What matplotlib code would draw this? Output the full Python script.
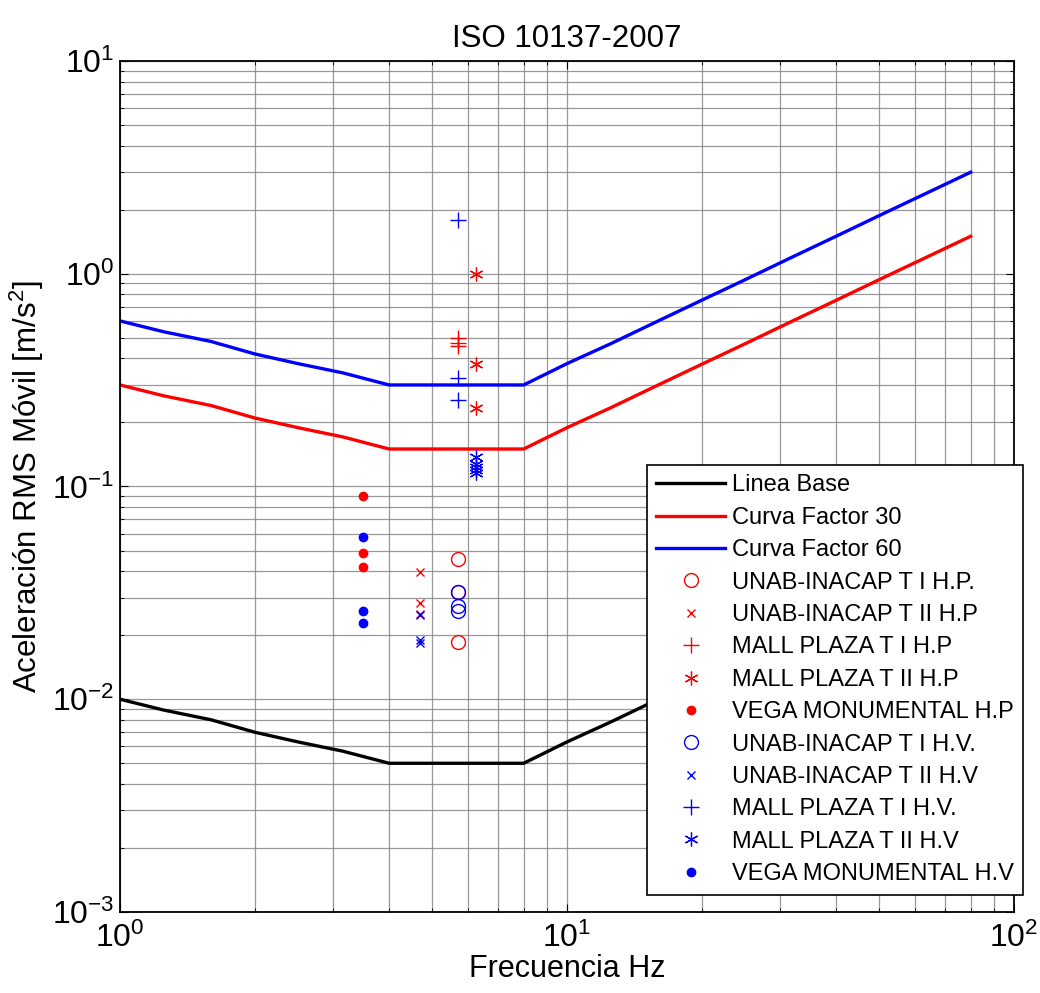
import numpy as np
import matplotlib
matplotlib.use("Agg")
import matplotlib.pyplot as plt

plt.rcParams['font.family'] = ['Liberation Sans', 'DejaVu Sans']
plt.rcParams['mathtext.default'] = 'regular'

# ISO 10137 base curve (1/3 octave bands) and the two factored curves
freq = [1, 1.25, 1.6, 2, 2.5, 3.15, 4, 5, 6.3, 8, 10, 12.5, 16, 20, 25,
        31.5, 40, 50, 63, 80]
base = [0.01, 0.0089, 0.008, 0.007, 0.0063, 0.0057, 0.005, 0.005, 0.005,
        0.005, 0.0063, 0.0078, 0.01, 0.0125, 0.0156, 0.0197, 0.025,
        0.0313, 0.0394, 0.05]
factor30 = [0.3, 0.267, 0.24, 0.21, 0.189, 0.171, 0.15, 0.15, 0.15, 0.15,
            0.189, 0.234, 0.3, 0.375, 0.468, 0.591, 0.75, 0.939, 1.182, 1.5]
factor60 = [0.6, 0.534, 0.48, 0.42, 0.378, 0.342, 0.3, 0.3, 0.3, 0.3,
            0.378, 0.468, 0.6, 0.75, 0.936, 1.182, 1.5, 1.878, 2.364, 3.0]

# measured points (frequency Hz, rms acceleration m/s2)
unab1_hp_f = [5.7, 5.7, 5.7]
unab1_hp_a = [0.0454, 0.032, 0.0185]
unab2_hp_f = [4.7, 4.7, 4.7]
unab2_hp_a = [0.0397, 0.0282, 0.0252]
mall1_hp_f = [5.7, 5.7, 5.7]
mall1_hp_a = [0.50, 0.475, 0.458]
mall2_hp_f = [6.25, 6.25, 6.25]
mall2_hp_a = [1.0, 0.376, 0.235]
vega_hp_f = [3.5, 3.5, 3.5]
vega_hp_a = [0.090, 0.0485, 0.0418]

unab1_hv_f = [5.7, 5.7, 5.7]
unab1_hv_a = [0.032, 0.0275, 0.0259]
unab2_hv_f = [4.7, 4.7, 4.7]
unab2_hv_a = [0.025, 0.0189, 0.0184]
mall1_hv_f = [5.7, 5.7, 5.7]
mall1_hv_a = [1.79, 0.323, 0.255]
mall2_hv_f = [6.25, 6.25, 6.25, 6.25, 6.25]
mall2_hv_a = [0.137, 0.128, 0.123, 0.119, 0.116]
vega_hv_f = [3.5, 3.5, 3.5]
vega_hv_a = [0.0578, 0.0259, 0.0228]

fig = plt.figure(figsize=(10.4, 9.93), dpi=100)
ax = fig.add_axes([0.1154, 0.0816, 0.8596, 0.857])

ax.loglog(freq, base, color='black', lw=2.4, label='Linea Base')
ax.loglog(freq, factor30, color='red', lw=2.4, label='Curva Factor 30')
ax.loglog(freq, factor60, color='blue', lw=2.4, label='Curva Factor 60')

star = (6, 2, 0)
ax.plot(unab1_hp_f, unab1_hp_a, 'o', mfc='none', mec='red', ms=10, mew=1, label='UNAB-INACAP T I H.P.')
ax.plot(unab2_hp_f, unab2_hp_a, 'x', color='red', ms=6, mew=1, label='UNAB-INACAP T II H.P')
ax.plot(mall1_hp_f, mall1_hp_a, '+', color='red', ms=12, mew=1, label='MALL PLAZA T I H.P')
ax.plot(mall2_hp_f, mall2_hp_a, marker=star, ls='none', color='red', ms=10, mew=0.9, label='MALL PLAZA T II H.P')
ax.plot(vega_hp_f, vega_hp_a, '.', color='red', ms=12, label='VEGA MONUMENTAL H.P')
ax.plot(unab1_hv_f, unab1_hv_a, 'o', mfc='none', mec='blue', ms=10, mew=1, label='UNAB-INACAP T I H.V.')
ax.plot(unab2_hv_f, unab2_hv_a, 'x', color='blue', ms=6, mew=1, label='UNAB-INACAP T II H.V')
ax.plot(mall1_hv_f, mall1_hv_a, '+', color='blue', ms=12, mew=1, label='MALL PLAZA T I H.V.')
ax.plot(mall2_hv_f, mall2_hv_a, marker=star, ls='none', color='blue', ms=10, mew=0.9, label='MALL PLAZA T II H.V')
ax.plot(vega_hv_f, vega_hv_a, '.', color='blue', ms=12, label='VEGA MONUMENTAL H.V')

ax.set_xlim(1, 100)
ax.set_ylim(1e-3, 10)
ax.grid(True, which='both', color='#808080', lw=0.9, alpha=0.8)
ax.tick_params(which='both', direction='in', top=True, right=True)
ax.tick_params(which='major', length=6, labelsize=23)
ax.tick_params(axis='x', which='major', pad=8)
ax.tick_params(axis='y', which='major', pad=4)
ax.tick_params(which='minor', length=3)
for s in ax.spines.values():
    s.set_linewidth(1.3)

ax.set_title('ISO 10137-2007', fontsize=22.5, pad=10)
ax.set_xlabel('Frecuencia Hz', fontsize=22, labelpad=0)
ax.set_ylabel('Aceleración RMS Móvil [m/s$^2$]', fontsize=22.5, labelpad=4)

leg = ax.legend(loc='upper left', bbox_to_anchor=(647 / 1040, 1 - 465 / 993),
                bbox_transform=fig.transFigure, fontsize=17, frameon=True,
                fancybox=False, edgecolor='black', framealpha=1,
                labelspacing=0.44, handlelength=2.9, borderpad=0.4,
                handletextpad=0.3, borderaxespad=0)
leg.get_frame().set_linewidth(1.2)

fig.savefig('out.png', dpi=100)
